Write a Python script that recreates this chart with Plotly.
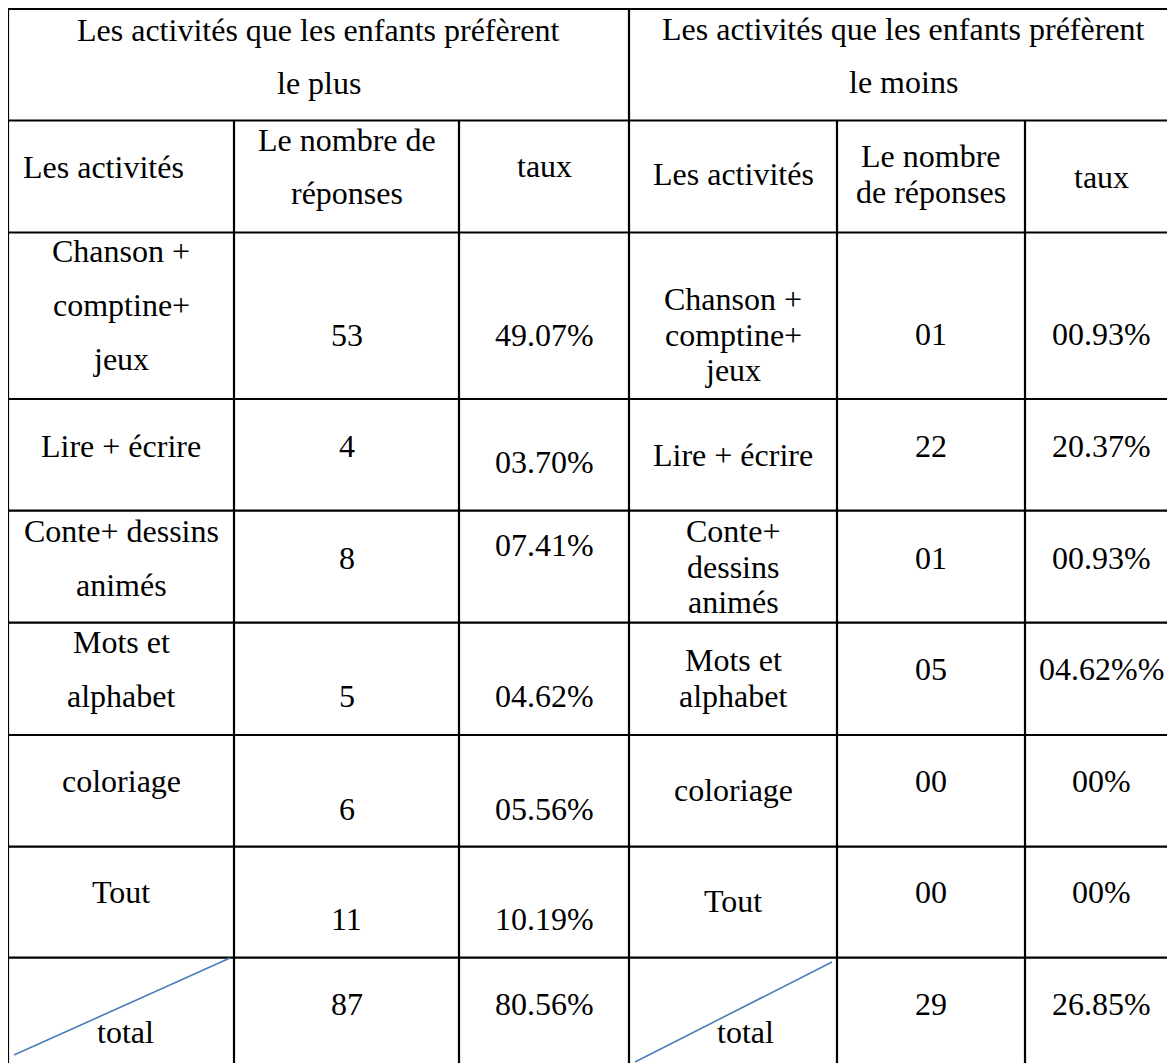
import plotly.graph_objects as go

# ---- table content -------------------------------------------------------
header_plus = "Les activités que les enfants préfèrent\nle plus"
header_moins = "Les activités que les enfants préfèrent\nle moins"

col_headers_plus = ["Les activités", "Le nombre de\nréponses", "taux"]
col_headers_moins = ["Les activités", "Le nombre\nde réponses", "taux"]

activities_plus = [
    "Chanson +\ncomptine+\njeux", "Lire + écrire", "Conte+ dessins\nanimés",
    "Mots et\nalphabet", "coloriage", "Tout", "total",
]
activities_moins = [
    "Chanson +\ncomptine+\njeux", "Lire + écrire", "Conte+\ndessins\nanimés",
    "Mots et\nalphabet", "coloriage", "Tout", "total",
]
counts_plus = ["53", "4", "8", "5", "6", "11", "87"]
rates_plus = ["49.07%", "03.70%", "07.41%", "04.62%", "05.56%", "10.19%", "80.56%"]
counts_moins = ["01", "22", "01", "05", "00", "00", "29"]
rates_moins = ["00.93%", "20.37%", "00.93%", "04.62%%", "00%", "00%", "26.85%"]

# ---- page geometry (pixels, page coordinates) ---------------------------
W, H = 1175, 1063
PAGE_PAD = 8  # the html body margin
FONT = "Liberation Serif, Times New Roman, serif"
FS = 32
COLS = [8, 234, 459, 629, 837, 1025, 1177]
ROWS = [9, 120.5, 232.5, 399, 510.7, 622.7, 735, 846.7, 957.7, 1080]
PITCH_WIDE = 54    # 1.5 line spacing (left table)
PITCH_TIGHT = 35.5  # single spacing (right table)

# text baselines per data row
LABEL_BASE_PLUS = [262, 457, 542, 653, 792, 903, 1043]
COUNT_BASE_PLUS = [346, 457, 569, 707, 820, 930, 1015]
RATE_BASE_PLUS = [346, 473, 556, 707, 820, 930, 1015]
LABEL_BASE_MOINS = [310, 466, 542, 671, 801, 912, 1043]
COUNT_BASE_MOINS = [345, 457, 569, 680, 792, 903, 1015]
RATE_BASE_MOINS = [345, 457, 569, 680, 792, 903, 1015]


def center(i):
    return (COLS[i] + COLS[i + 1]) / 2


fig = go.Figure()
annotations = []


def add_text(text, x, baseline, pitch, xanchor="center"):
    for k, line in enumerate(text.split("\n")):
        annotations.append(dict(
            x=x, y=baseline + k * pitch - 0.34 * FS,
            xref="x", yref="y", text=line, showarrow=False,
            xanchor=xanchor, yanchor="middle",
            font=dict(family=FONT, size=FS, color="black"),
        ))


# header rows
add_text(header_plus, (COLS[0] + COLS[3]) / 2, 41, 53)
add_text(header_moins, (COLS[3] + COLS[6]) / 2, 40, 53)
add_text(col_headers_plus[0], 21, 178, PITCH_WIDE, xanchor="left")
add_text(col_headers_plus[1], center(1), 151, 53)
add_text(col_headers_plus[2], center(2), 177, PITCH_WIDE)
add_text(col_headers_moins[0], center(3), 185, PITCH_TIGHT)
add_text(col_headers_moins[1], center(4), 167, PITCH_TIGHT)
add_text(col_headers_moins[2], center(5), 188, PITCH_TIGHT)

# data rows
last = len(activities_plus) - 1
for i in range(len(activities_plus)):
    xl = 125 if i == last else center(0)
    xr = 745 if i == last else center(3)
    add_text(activities_plus[i], xl, LABEL_BASE_PLUS[i], PITCH_WIDE)
    add_text(counts_plus[i], center(1), COUNT_BASE_PLUS[i], PITCH_WIDE)
    add_text(rates_plus[i], center(2), RATE_BASE_PLUS[i], PITCH_WIDE)
    add_text(activities_moins[i], xr, LABEL_BASE_MOINS[i], PITCH_TIGHT)
    add_text(counts_moins[i], center(4), COUNT_BASE_MOINS[i], PITCH_TIGHT)
    add_text(rates_moins[i], center(5), RATE_BASE_MOINS[i], PITCH_TIGHT)

# grid lines
shapes = []
grid = dict(color="black", width=2.2)
for y in ROWS:
    shapes.append(dict(type="line", x0=COLS[0], x1=COLS[-1], y0=y, y1=y,
                       xref="x", yref="y", line=grid))
for j, x in enumerate(COLS):
    top = ROWS[0] if j in (0, 3, 6) else ROWS[1]
    shapes.append(dict(type="line", x0=x, x1=x, y0=top, y1=ROWS[-1],
                       xref="x", yref="y", line=grid))

# diagonal strokes in the "total" cells
diag = dict(color="#4A7EBB", width=1.6)
shapes.append(dict(type="line", x0=14, y0=1055, x1=230, y1=958,
                   xref="x", yref="y", line=diag))
shapes.append(dict(type="line", x0=635, y0=1062, x1=832, y1=962,
                   xref="x", yref="y", line=diag))

# the figure sits PAGE_PAD px into the page, so its axes start there
fig.update_layout(
    width=W - PAGE_PAD, height=H - PAGE_PAD,
    margin=dict(l=0, r=0, t=0, b=0),
    paper_bgcolor="white", plot_bgcolor="white",
    xaxis=dict(range=[PAGE_PAD, W], visible=False, fixedrange=True),
    yaxis=dict(range=[H, PAGE_PAD], visible=False, fixedrange=True),
    shapes=shapes, annotations=annotations,
    showlegend=False,
)

fig.write_html("out.html", config={"displayModeBar": False})
